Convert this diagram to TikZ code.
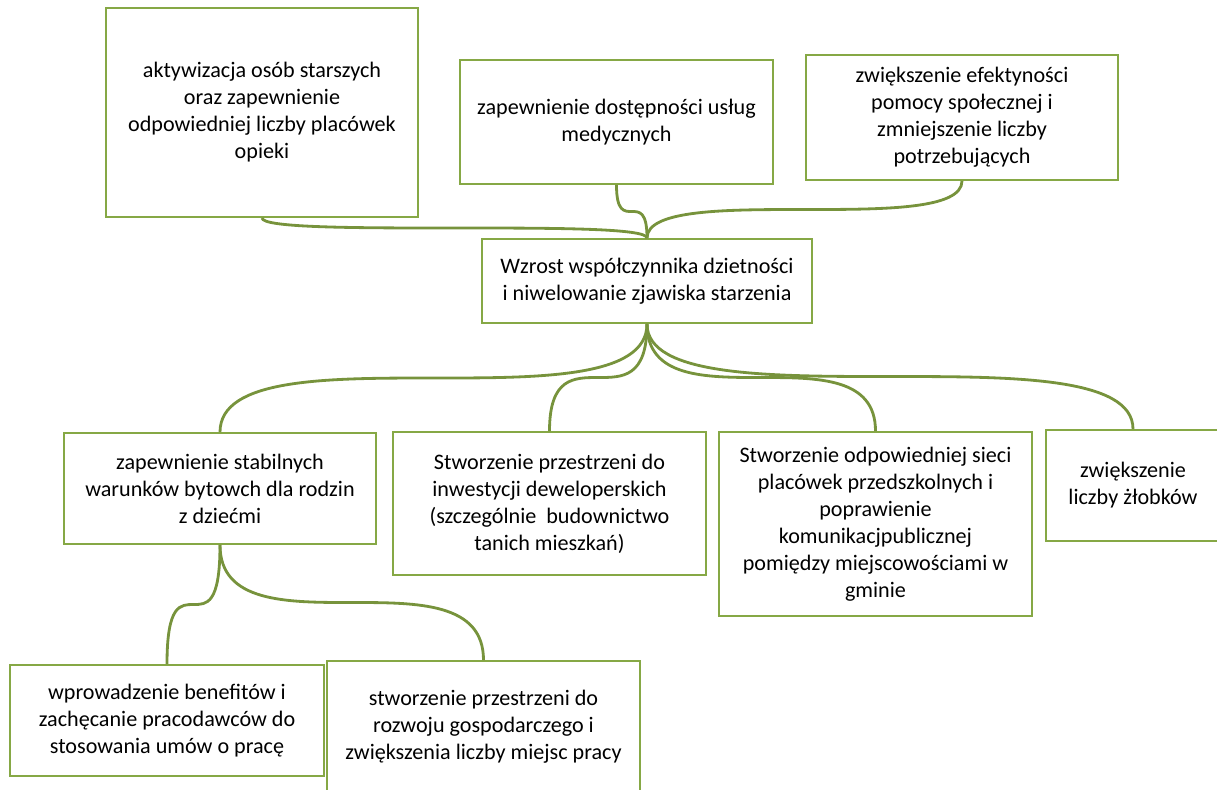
\documentclass[tikz,border=0pt]{standalone}
\usepackage{fontspec}
\setmainfont{Carlito}
\usetikzlibrary{calc}
\definecolor{linkgreen}{HTML}{77933C}
\definecolor{boxgreen}{HTML}{86A845}
% curved branch from one anchor to another, horizontal in the middle
\newcommand{\curvelink}[2]{%
  \path ($(#1)!0.5!(#2)$) coordinate (m);
  \draw[link] (#1) .. controls (#1 |- m) and ($(#1 |- m)!0.5!(m)$) .. (m)
    .. controls ($(m)!0.5!(#2 |- m)$) and (#2 |- m) .. (#2);}

\begin{document}
\begin{tikzpicture}[x=0.02cm,y=-0.02cm,
  box/.style={draw=boxgreen,line width=1.1pt,fill=white,align=center,
    inner sep=0pt,font=\fontsize{12.6}{15.4}\selectfont},
  link/.style={draw=linkgreen,line width=1.6pt}]
  \useasboundingbox (0,0) rectangle (1217,789);
  \clip (0,0) rectangle (1217,789);

  % top row
  \node[box,minimum width=6.24cm,minimum height=4.18cm] (aktyw) at (262,112.5)
    {aktywizacja osób starszych\\oraz zapewnienie\\odpowiedniej liczby placówek\\opieki};
  \node[box,minimum width=6.26cm,minimum height=2.48cm] (medyc) at (616.5,122)
    {zapewnienie dostępności usług\\medycznych};
  \node[box,minimum width=6.24cm,minimum height=2.5cm] (pomoc) at (962,117.5)
    {zwiększenie efektyności\\pomocy społecznej i\\zmniejszenie liczby\\potrzebujących};

  % centre
  \node[box,minimum width=6.6cm,minimum height=1.68cm] (wzrost) at (647,281)
    {Wzrost współczynnika dzietności\\i niwelowanie zjawiska starzenia};

  % second row
  \node[box,minimum width=6.24cm,minimum height=2.22cm] (warunki) at (220,488.5)
    {zapewnienie stabilnych\\warunków bytowch dla rodzin\\z dziećmi};
  \node[box,minimum width=6.26cm,minimum height=2.86cm] (inwest) at (549.5,503.5)
    {Stworzenie przestrzeni do\\inwestycji deweloperskich\\(szczególnie\ \ budownictwo\\tanich mieszkań)};
  \node[box,minimum width=6.26cm,minimum height=3.68cm] (przedszk) at (875.5,524)
    {Stworzenie odpowiedniej sieci\\placówek przedszkolnych i\\poprawienie\\komunikacjpublicznej\\pomiędzy miejscowościami w\\gminie};
  \node[box,minimum width=3.48cm,minimum height=2.22cm] (zlobki) at (1133,485.5)
    {zwiększenie\\liczby żłobków};

  % bottom row
  \node[box,minimum width=6.28cm,minimum height=2.22cm] (benefity) at (167,720.5)
    {wprowadzenie benefitów i\\zachęcanie pracodawców do\\stosowania umów o pracę};
  \node[box,minimum width=6.26cm,minimum height=2.64cm] (praca) at (483.5,727)
    {stworzenie przestrzeni do\\rozwoju gospodarczego i\\zwiększenia liczby miejsc pracy};

  \curvelink{aktyw.south}{wzrost.north}
  \curvelink{medyc.south}{wzrost.north}
  \curvelink{pomoc.south}{wzrost.north}
  \curvelink{wzrost.south}{warunki.north}
  \curvelink{wzrost.south}{inwest.north}
  \curvelink{wzrost.south}{przedszk.north}
  \curvelink{wzrost.south}{zlobki.north}
  \curvelink{warunki.south}{benefity.north}
  \curvelink{warunki.south}{praca.north}
\end{tikzpicture}
\end{document}
